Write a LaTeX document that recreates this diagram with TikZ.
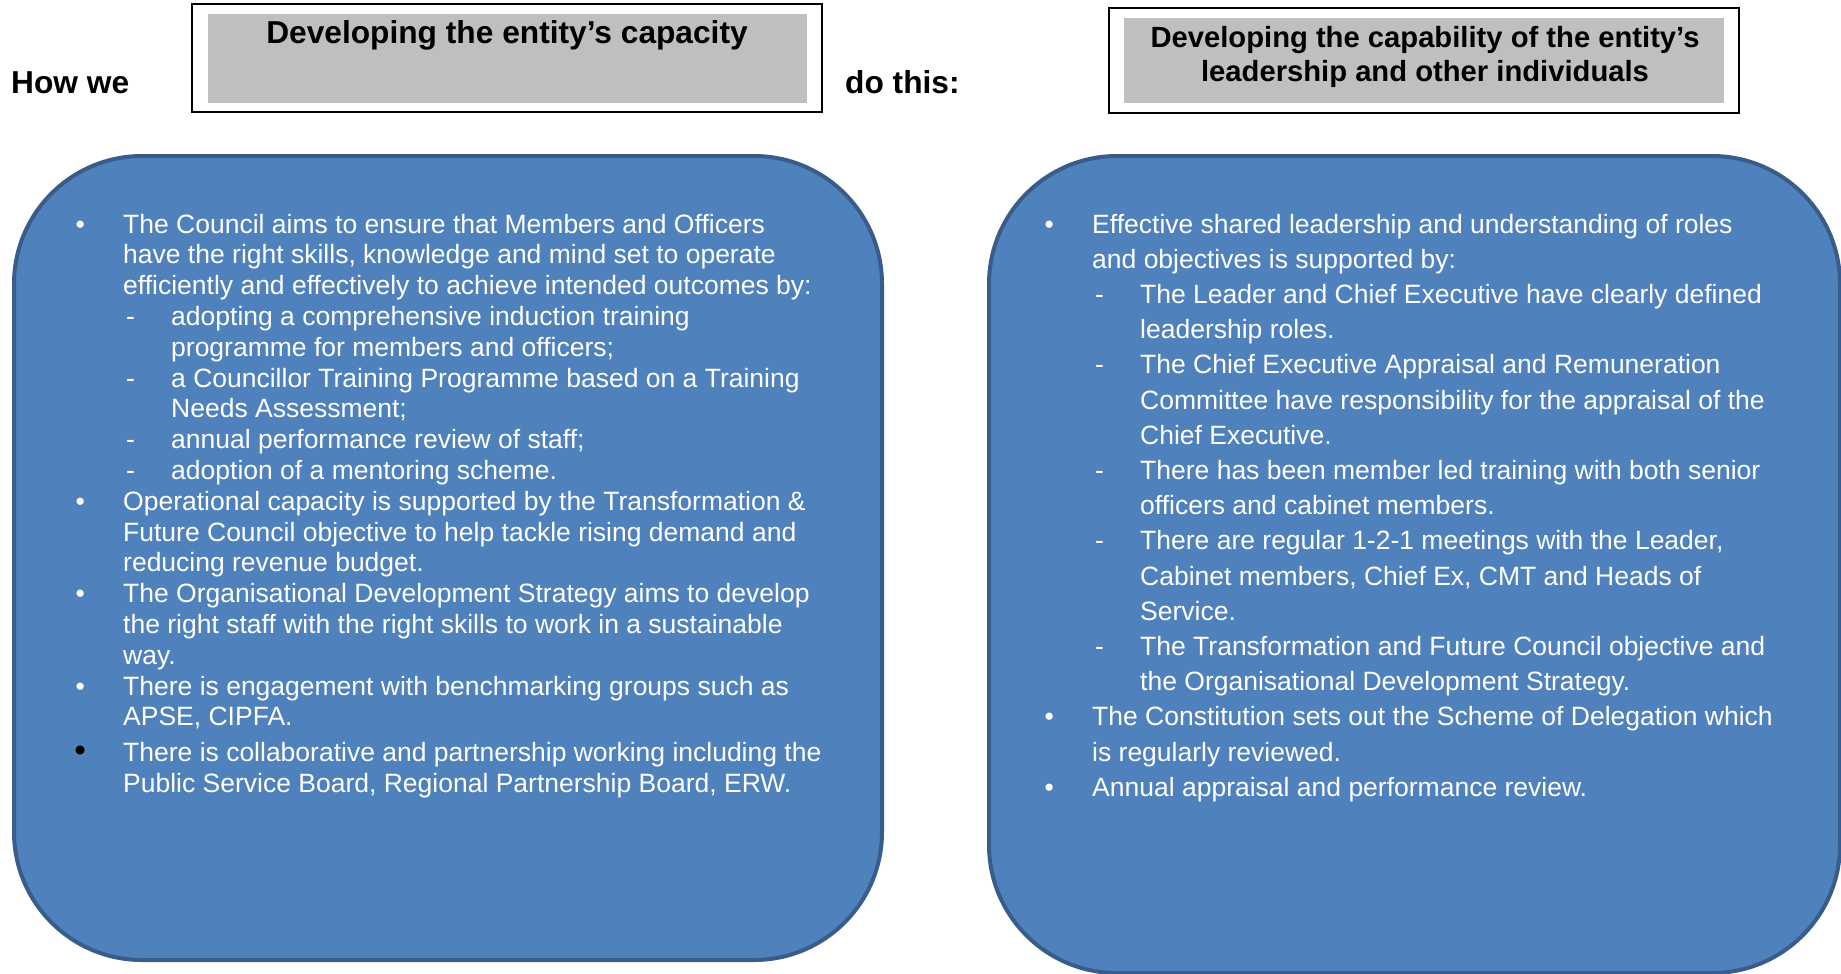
\documentclass[tikz,border=0pt]{standalone}
\usepackage{fontspec}
\setmainfont{Liberation Sans}[Ligatures=CommonOff]
\definecolor{boxblue}{RGB}{79,129,189}
\definecolor{boxedge}{RGB}{56,93,138}
\definecolor{hgrey}{RGB}{191,191,191}
\newcommand\bitem[1]{\mbox{\makebox[0pt]{\textbullet}\hspace*{43pt}#1}\par}
\newcommand\kitem[1]{\mbox{\makebox[0pt]{\color{black}\scalebox{1.25}{\textbullet}}\hspace*{43pt}#1}\par}
\newcommand\bcont[1]{\mbox{\hspace*{43pt}#1}\par}
\newcommand\ditem[1]{\mbox{\hspace*{46pt}\makebox[45pt][l]{-}#1}\par}
\newcommand\dcont[1]{\mbox{\hspace*{91pt}#1}\par}
\begin{document}
\begin{tikzpicture}[x=1pt,y=-1pt,
  hdr/.style={draw=black,line width=2pt,inner sep=0pt},
  hdrbg/.style={fill=hgrey,inner sep=0pt},
  bluebox/.style={fill=boxblue,draw=boxedge,line width=4pt,rounded corners=128pt,inner sep=0pt},
  bodytext/.style={text=white,inner sep=0pt,anchor=base west,font=\fontsize{26.5}{30.8}\selectfont},
  bigbold/.style={inner sep=0pt,font=\fontsize{31.7}{38}\selectfont\bfseries}]
\useasboundingbox (0,0) rectangle (1841,974);
% header boxes
\node[hdr,minimum width=630pt,minimum height=107.5pt] (lhead) at (507,58.25) {};
\node[hdrbg,minimum width=599pt,minimum height=89pt] (lheadbg) at (507.5,58.5) {};
\node[bigbold,anchor=base] (ltitle) at (507,44) {Developing the entity’s capacity};
\node[hdr,minimum width=630pt,minimum height=105pt] (rhead) at (1424,60.5) {};
\node[hdrbg,minimum width=600pt,minimum height=85pt] (rheadbg) at (1424,60.5) {};
\node[inner sep=0pt,anchor=base,font=\fontsize{29.2}{34}\selectfont\bfseries] (rtitle) at (1425,48)
  {\begin{tabular}[t]{@{}c@{}}Developing the capability of the entity’s\\leadership and other individuals\end{tabular}};
\node[bigbold,anchor=base west] (howwe) at (11,93) {How we};
\node[bigbold,anchor=base west] (dothis) at (845,93) {do this:};
% blue boxes
\node[bluebox,minimum width=868pt,minimum height=804pt] (lbox) at (448,558) {};
\node[bluebox,minimum width=851pt,minimum height=817pt] (rbox) at (1414.5,564.5) {};
% left text
\node[bodytext] (ltext) at (80,233) {\begin{minipage}[t]{800pt}\setlength{\parskip}{0pt}\setlength{\baselineskip}{30.8pt}%
\bitem{The Council aims to ensure that Members and Officers}
\bcont{have the right skills, knowledge and mind set to operate}
\bcont{efficiently and effectively to achieve intended outcomes by:}
\ditem{adopting a comprehensive induction training}
\dcont{programme for members and officers;}
\ditem{a Councillor Training Programme based on a Training}
\dcont{Needs Assessment;}
\ditem{annual performance review of staff;}
\ditem{adoption of a mentoring scheme.}
\bitem{Operational capacity is supported by the Transformation \&}
\bcont{Future Council objective to help tackle rising demand and}
\bcont{reducing revenue budget.}
\bitem{The Organisational Development Strategy aims to develop}
\bcont{the right staff with the right skills to work in a sustainable}
\bcont{way.}
\bitem{There is engagement with benchmarking groups such as}
\bcont{APSE, CIPFA.}
\vspace{5pt}
\kitem{There is collaborative and partnership working including the}
\bcont{Public Service Board, Regional Partnership Board, ERW.}
\end{minipage}};
% right text
\node[bodytext] (rtext) at (1049,233) {\begin{minipage}[t]{800pt}\setlength{\parskip}{0pt}\setlength{\baselineskip}{35.2pt}%
\bitem{Effective shared leadership and understanding of roles}
\bcont{and objectives is supported by:}
\ditem{The Leader and Chief Executive have clearly defined}
\dcont{leadership roles.}
\ditem{The Chief Executive Appraisal and Remuneration}
\dcont{Committee have responsibility for the appraisal of the}
\dcont{Chief Executive.}
\ditem{There has been member led training with both senior}
\dcont{officers and cabinet members.}
\ditem{There are regular 1-2-1 meetings with the Leader,}
\dcont{Cabinet members, Chief Ex, CMT and Heads of}
\dcont{Service.}
\ditem{The Transformation and Future Council objective and}
\dcont{the Organisational Development Strategy.}
\bitem{The Constitution sets out the Scheme of Delegation which}
\bcont{is regularly reviewed.}
\bitem{Annual appraisal and performance review.}
\end{minipage}};
\end{tikzpicture}
\end{document}
